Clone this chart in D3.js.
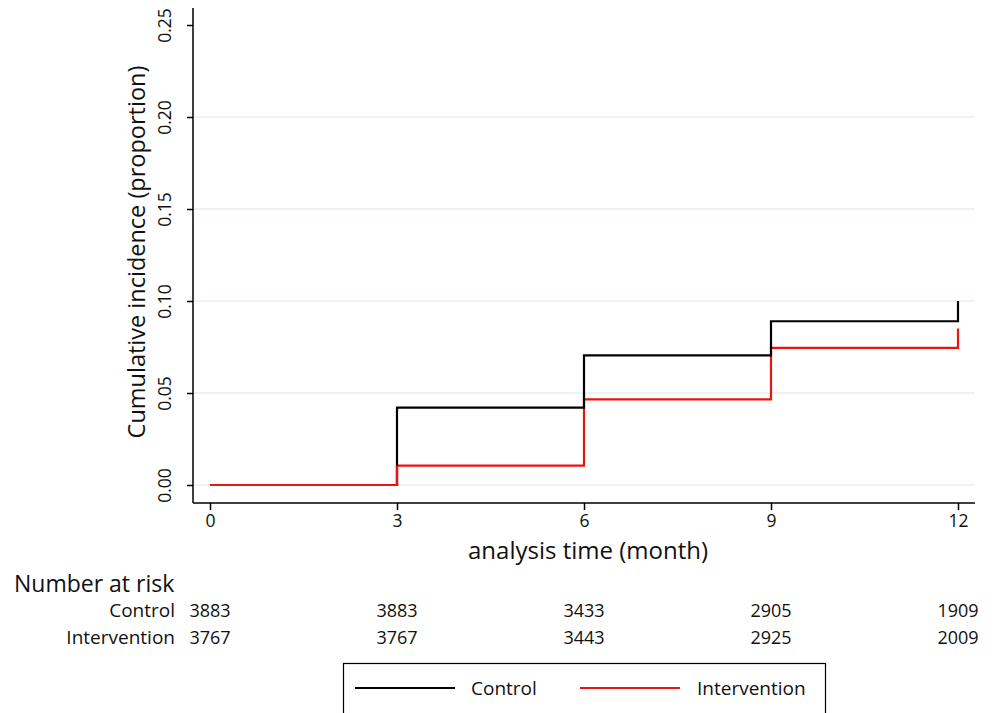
<!DOCTYPE html>
<html><head><meta charset="utf-8">
<script src="https://cdn.jsdelivr.net/npm/d3@7"></script>
<style>body{margin:0;background:#fff}svg{display:block}text{font-family:"Open Sans",sans-serif;fill:#111}</style>
</head><body>
<script>
const times = [0, 3, 6, 9, 12];
const controlValues = [0, 0.042, 0.0705, 0.089, 0.100];
const interventionValues = [0, 0.0105, 0.0465, 0.0745, 0.085];
const yTicks = [0, 0.05, 0.10, 0.15, 0.20, 0.25];
const seriesNames = ["Control", "Intervention"];
const seriesColors = ["#000000", "#e8140f"];
const riskControl = [3883, 3883, 3433, 2905, 1909];
const riskIntervention = [3767, 3767, 3443, 2925, 2009];

const W = 997, H = 713;
const svg = d3.select("body").append("svg").attr("width", W).attr("height", H);
const x = d3.scaleLinear().domain([0, 12]).range([210, 958]);
const y = d3.scaleLinear().domain([0, 0.25]).range([485, 25]);
const axL = 193, axB = 503, axR = 975, axT = 8;

// gridlines
svg.append("g").selectAll("line").data(yTicks.filter(d => d < 0.25)).join("line")
  .attr("x1", axL).attr("x2", axR).attr("y1", d => y(d)).attr("y2", d => y(d))
  .attr("stroke", "#e6eff0").attr("stroke-width", 1.5);

// y axis
const ya = svg.append("g").attr("transform", `translate(${axL},0)`)
  .call(d3.axisLeft(y).tickValues(yTicks).tickFormat(d3.format(".2f")).tickSize(6).tickSizeOuter(0));
ya.select(".domain").attr("d", `M0,${axT}V${axB}`).attr("stroke", "#000").attr("stroke-width", 1.5);
ya.selectAll(".tick line").attr("stroke", "#000").attr("stroke-width", 1.5);
ya.selectAll(".tick text").attr("font-size", 17.5).attr("font-family", "Open Sans")
  .attr("x", 0).attr("dy", 0).attr("text-anchor", "middle")
  .attr("transform", "translate(-22,0) rotate(-90)");

// x axis
const xa = svg.append("g").attr("transform", `translate(0,${axB})`)
  .call(d3.axisBottom(x).tickValues(times).tickSize(7).tickSizeOuter(0));
xa.select(".domain").attr("d", `M${axL},0H${axR}`).attr("stroke", "#000").attr("stroke-width", 1.5);
xa.selectAll(".tick line").attr("stroke", "#000").attr("stroke-width", 1.5);
xa.selectAll(".tick text").attr("font-size", 17.5).attr("font-family", "Open Sans").attr("y", 12);

// titles
svg.append("text").attr("transform", `translate(145,${(y(0)+y(0.25))/2 - 3}) rotate(-90)`)
  .attr("text-anchor", "middle").attr("font-size", 23.5).text("Cumulative incidence (proportion)");
svg.append("text").attr("x", 588).attr("y", 559).attr("text-anchor", "middle")
  .attr("font-size", 24).text("analysis time (month)");

// lines
const line = d3.line().x(d => x(d[0])).y(d => y(d[1])).curve(d3.curveStepAfter);
[interventionValues, controlValues].forEach((vals, i) => {
  const idx = i === 0 ? 1 : 0;
  svg.append("path").datum(times.map((t, j) => [t, vals[j]]))
    .attr("d", line).attr("fill", "none").attr("stroke", seriesColors[idx]).attr("stroke-width", 2.2);
});
svg.append("path").datum([[0, 0], [3, 0], [3, interventionValues[1]]]).attr("d", line)
  .attr("fill", "none").attr("stroke", seriesColors[1]).attr("stroke-width", 2.2);

// number at risk
svg.append("text").attr("x", 14).attr("y", 592).attr("font-size", 23).text("Number at risk");
[[riskControl, 617], [riskIntervention, 644]].forEach(([vals, yy], i) => {
  svg.append("text").attr("x", 175).attr("y", yy).attr("text-anchor", "end").attr("font-size", 19).text(seriesNames[i]);
  svg.append("g").selectAll("text").data(vals).join("text")
    .attr("x", (d, j) => x(times[j])).attr("y", yy).attr("text-anchor", "middle")
    .attr("font-size", 18).text(d => d);
});

// legend
svg.append("rect").attr("x", 343.5).attr("y", 663.5).attr("width", 482).attr("height", 60)
  .attr("fill", "none").attr("stroke", "#000").attr("stroke-width", 1.2);
const lg = [[355, 455, 471], [580, 680, 697]];
lg.forEach((p, i) => {
  svg.append("line").attr("x1", p[0]).attr("x2", p[1]).attr("y1", 688).attr("y2", 688)
    .attr("stroke", seriesColors[i]).attr("stroke-width", 2.2);
  svg.append("text").attr("x", p[2]).attr("y", 695).attr("font-size", 19).text(seriesNames[i]);
});
</script>
</body></html>
